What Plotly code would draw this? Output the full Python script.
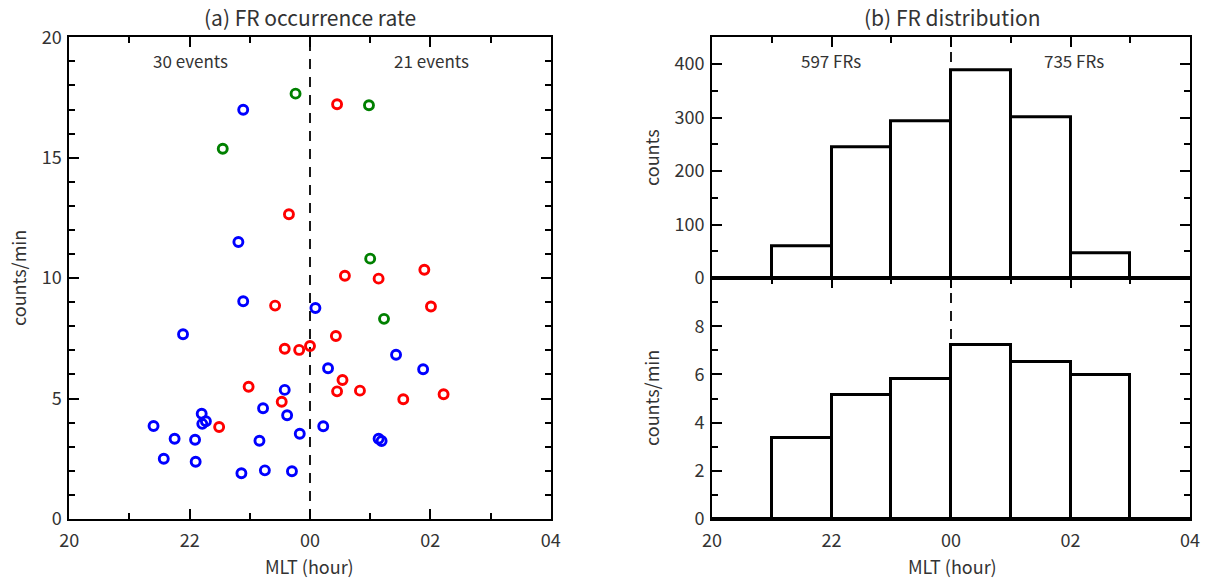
import plotly.graph_objects as go

# ---------------- data ----------------
blue_mlt = [22.89, 22.81, 22.89, 21.89, 24.09, 21.40, 21.75, 21.57, 22.09, 22.10,
            22.20, 22.21, 22.27, 22.86, 23.25, 23.70, 23.16, 23.22, 23.58, 23.62,
            23.83, 24.30, 25.43, 25.88, 24.22, 25.14, 25.19]
blue_rate = [16.99, 11.50, 9.04, 7.67, 8.76, 3.86, 3.33, 2.50, 3.29, 2.38,
             4.37, 3.95, 4.06, 1.90, 2.02, 1.98, 3.25, 4.60, 5.36, 4.31,
             3.54, 6.26, 6.82, 6.22, 3.85, 3.33, 3.24]
green_mlt = [23.76, 22.55, 24.98, 25.00, 25.23]
green_rate = [17.66, 15.37, 17.18, 10.81, 8.31]
red_mlt = [23.65, 24.45, 24.58, 25.14, 25.90, 26.01, 24.43, 24.00, 24.54, 24.45,
           24.83, 25.55, 26.22, 23.42, 23.58, 23.82, 22.98, 23.53, 22.49]
red_rate = [12.65, 17.22, 10.10, 9.98, 10.35, 8.82, 7.60, 7.18, 5.77, 5.30,
            5.33, 4.97, 5.18, 8.86, 7.07, 7.02, 5.49, 4.87, 3.82]

bin_centers = [21.5, 22.5, 23.5, 24.5, 25.5, 26.5]
bin_counts = [59, 245, 293, 388, 300, 47]
bin_rate = [3.38, 5.15, 5.80, 7.20, 6.52, 5.96]

x_tickvals = [20, 22, 24, 26, 28]
x_ticktext = ["20", "22", "00", "02", "04"]
midnight = 24
left_labels = ["30 events", "21 events"]
right_labels = ["597 FRs", "735 FRs"]

# ---------------- figure ----------------
FONT = "Noto Sans CJK SC"
TXT = "#333333"
W, H = 1205, 579

fig = go.Figure()

mk = dict(symbol="circle-open", size=9, line=dict(width=2.9))
fig.add_trace(go.Scatter(x=blue_mlt, y=blue_rate, mode="markers",
                         marker=dict(color="#0000ff", **mk), xaxis="x", yaxis="y"))
fig.add_trace(go.Scatter(x=green_mlt, y=green_rate, mode="markers",
                         marker=dict(color="#008000", **mk), xaxis="x", yaxis="y"))
fig.add_trace(go.Scatter(x=red_mlt, y=red_rate, mode="markers",
                         marker=dict(color="#ff0000", **mk), xaxis="x", yaxis="y"))

barstyle = dict(color="white", line=dict(color="black", width=3))
fig.add_trace(go.Bar(x=bin_centers, y=bin_counts, width=1, marker=barstyle,
                     xaxis="x2", yaxis="y2"))
fig.add_trace(go.Bar(x=bin_centers, y=bin_rate, width=1, marker=barstyle,
                     xaxis="x3", yaxis="y3"))

dx_l = [69.3 / W, 550.7 / W]
dx_r = [712 / W, 1190 / W]
y_bot, y_mid, y_top = 1 - 519 / H, 1 - 278 / H, 1 - 37.3 / H

def xax(domain, anchor, labels=True):
    return dict(domain=domain, anchor=anchor, range=[20, 28], automargin=False,
                tickvals=x_tickvals, ticktext=x_ticktext, showticklabels=labels,
                ticklabelstandoff=4,
                ticks="inside", ticklen=10, tickwidth=1.5, tickcolor="black",
                minor=dict(ticks="inside", dtick=1, tick0=20, ticklen=6,
                           tickwidth=1.5, tickcolor="black"),
                showline=True, linecolor="black", linewidth=2, mirror="allticks",
                showgrid=False, zeroline=False,
                tickfont=dict(family=FONT, size=18, color=TXT))

def yax(domain, anchor, rng, tickvals, minor_dtick):
    return dict(domain=domain, anchor=anchor, range=rng, tickvals=tickvals,
                automargin=False, ticklabelstandoff=2,
                ticks="inside", ticklen=10, tickwidth=1.5, tickcolor="black",
                minor=dict(ticks="inside", dtick=minor_dtick, tick0=0, ticklen=6,
                           tickwidth=1.5, tickcolor="black"),
                showline=True, linecolor="black", linewidth=2, mirror="allticks",
                showgrid=False, zeroline=False,
                tickfont=dict(family=FONT, size=18, color=TXT))

fig.update_layout(
    width=W, height=H,
    margin=dict(l=0, r=0, t=0, b=0, pad=0, autoexpand=False),
    paper_bgcolor="white", plot_bgcolor="white",
    showlegend=False, bargap=0,
    xaxis=xax(dx_l, "y"),
    yaxis=yax([y_bot, y_top], "x", [0, 20], [0, 5, 10, 15, 20], 1),
    xaxis2=xax(dx_r, "y2", labels=False),
    yaxis2=yax([y_mid, y_top], "x2", [0, 450], [0, 100, 200, 300, 400], 50),
    xaxis3=xax(dx_r, "y3"),
    yaxis3=yax([y_bot, y_mid], "x3", [0, 10], [0, 2, 4, 6, 8], 1),
)

dash = dict(color="black", width=1.8, dash="10px,8px")
shapes = [
    dict(type="line", xref="x", yref="y", x0=midnight, x1=midnight, y0=0, y1=20,
         line=dash, layer="below"),
    dict(type="line", xref="x2", yref="y2", x0=midnight, x1=midnight, y0=0, y1=450,
         line=dash, layer="below"),
    dict(type="line", xref="x3", yref="y3", x0=midnight, x1=midnight, y0=0, y1=10,
         line=dash, layer="below"),
    # thick baselines
    dict(type="line", xref="paper", yref="paper", x0=dx_r[0], x1=dx_r[1],
         y0=y_mid, y1=y_mid, line=dict(color="black", width=4)),
    dict(type="line", xref="paper", yref="paper", x0=dx_r[0], x1=dx_r[1],
         y0=y_bot, y1=y_bot, line=dict(color="black", width=4)),
]
fig.update_layout(shapes=shapes)

def ann(text, px, py, size=18, angle=0):
    return dict(text=text, x=px / W, y=1 - py / H, xref="paper", yref="paper",
                showarrow=False, textangle=angle, xanchor="center", yanchor="middle",
                font=dict(family=FONT, size=size, color=TXT))

annotations = [
    ann("(a) FR occurrence rate", 310, 17, 21),
    ann("(b) FR distribution", 952, 17, 21),
    ann(left_labels[0], 190, 60, 17),
    ann(left_labels[1], 431, 60, 17),
    ann(right_labels[0], 831, 60, 17),
    ann(right_labels[1], 1074, 60, 17),
    ann("MLT (hour)", 310, 566, 18),
    ann("MLT (hour)", 952, 566, 18),
    ann("counts/min", 18, 278, 18, -90),
    ann("counts", 651, 158, 18, -90),
    ann("counts/min", 651, 398, 18, -90),
]
fig.update_layout(annotations=annotations)

fig.write_html(
    "out.html",
    config={"displayModeBar": False},
    post_script="document.body.style.margin='0';document.body.style.overflow='hidden';",
)
